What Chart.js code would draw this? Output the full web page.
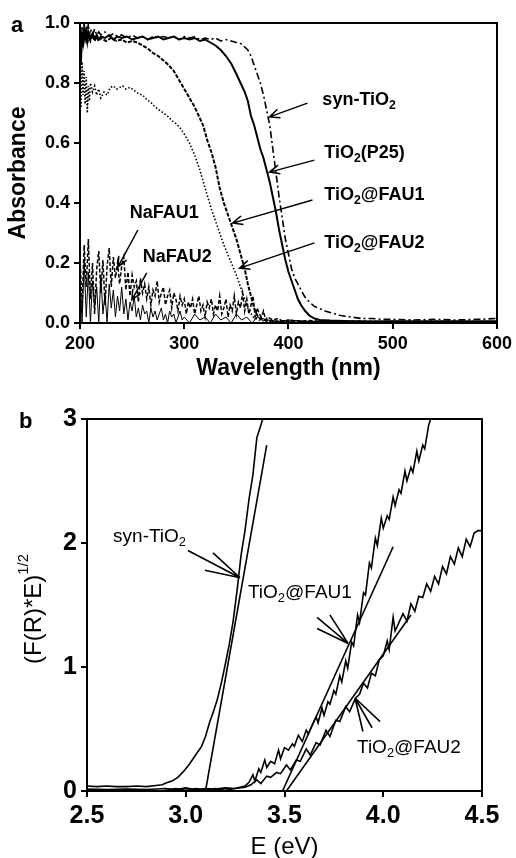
<!DOCTYPE html>
<html><head><meta charset="utf-8">
<script src="https://cdn.jsdelivr.net/npm/chart.js@4.4.1/dist/chart.umd.min.js"></script>
<style>
html,body{margin:0;padding:0;background:#fff;width:516px;height:858px;overflow:hidden;}
#ca{position:absolute;left:0;top:0;}
#cb{position:absolute;left:0;top:395px;}
</style></head><body>
<canvas id="ca" width="516" height="395"></canvas>
<canvas id="cb" width="516" height="470"></canvas>
<script>
const FONT = '"Liberation Sans", Arial, Helvetica, sans-serif';

// ---------- Panel a: absorbance vs wavelength ----------
const wlTicks = [200, 300, 400, 500, 600];
const absTicks = [0, 0.2, 0.4, 0.6, 0.8, 1.0];

const synWl  = [201,202,203,204,205,206,207,208,209,210,212,214,216,218,220,224,228,232,236,240,245,250,255,260,265,270,275,280,285,290,295,300,305,310,315,320,325,330,335,340,345,350,355,358,361,364,367,370,373,376,379,382,385,388,391,394,397,400,403,406,409,412,416,420,425,430,435,440,445,450,460,470,480,490,500,520,540,560,580,600];
const synAbs = [0.86,0.99,0.93,1.0,0.96,0.99,0.95,1.0,0.96,0.98,0.96,0.98,0.96,0.97,0.96,0.97,0.955,0.965,0.955,0.96,0.95,0.96,0.95,0.955,0.945,0.955,0.95,0.955,0.95,0.955,0.945,0.955,0.95,0.955,0.945,0.95,0.945,0.95,0.94,0.945,0.94,0.935,0.93,0.92,0.91,0.89,0.86,0.83,0.80,0.76,0.71,0.66,0.58,0.50,0.42,0.35,0.28,0.23,0.18,0.15,0.13,0.11,0.085,0.07,0.055,0.048,0.04,0.035,0.03,0.025,0.02,0.015,0.015,0.012,0.012,0.01,0.012,0.01,0.012,0.015];

const p25Wl  = [201,202,203,204,205,206,207,208,210,212,214,216,218,220,224,228,232,236,240,245,250,255,260,265,270,275,280,285,290,295,300,305,310,315,320,325,330,335,340,345,350,354,358,361,364,367,370,373,376,379,382,385,388,391,394,397,400,403,406,409,412,416,420,425,430,440,460,480,500,550,600];
const p25Abs = [0.90,0.97,0.94,0.98,0.95,0.97,0.94,0.97,0.95,0.965,0.95,0.96,0.945,0.955,0.95,0.96,0.945,0.955,0.95,0.955,0.945,0.95,0.955,0.945,0.95,0.955,0.945,0.95,0.955,0.945,0.95,0.945,0.95,0.94,0.945,0.935,0.925,0.91,0.89,0.865,0.83,0.80,0.77,0.74,0.69,0.66,0.62,0.58,0.55,0.51,0.47,0.42,0.37,0.31,0.26,0.21,0.17,0.14,0.11,0.08,0.06,0.04,0.025,0.015,0.01,0.008,0.006,0.005,0.006,0.005,0.006];

const fau1Wl  = [201,202,203,204,205,206,207,208,210,212,214,216,218,220,225,230,235,240,245,250,255,260,265,270,275,280,285,290,295,300,305,310,314,318,322,326,330,334,338,342,346,350,354,358,361,364,367,370,374,380,390,400,420,450,500,550,600];
const fau1Abs = [0.88,0.96,0.92,0.97,0.94,0.98,0.93,0.96,0.94,0.96,0.94,0.955,0.94,0.95,0.94,0.95,0.94,0.945,0.935,0.94,0.935,0.925,0.915,0.90,0.89,0.875,0.86,0.84,0.81,0.78,0.75,0.72,0.69,0.66,0.61,0.57,0.52,0.45,0.40,0.36,0.32,0.28,0.23,0.18,0.13,0.09,0.05,0.025,0.012,0.008,0.005,0.006,0.004,0.005,0.004,0.005,0.004];

const fau2Wl  = [201,202,203,204,205,206,207,208,209,210,212,214,216,218,220,223,226,229,232,235,238,241,244,248,252,256,260,264,268,272,276,280,284,288,292,296,300,305,310,315,320,326,332,338,344,350,356,361,366,372,380,400,450,500,600];
const fau2Abs = [0.72,0.87,0.76,0.84,0.73,0.82,0.70,0.79,0.74,0.80,0.77,0.79,0.76,0.78,0.75,0.77,0.76,0.785,0.79,0.78,0.785,0.79,0.78,0.785,0.775,0.765,0.76,0.745,0.735,0.72,0.71,0.70,0.69,0.675,0.665,0.65,0.63,0.60,0.56,0.51,0.45,0.38,0.32,0.26,0.21,0.16,0.10,0.05,0.02,0.01,0.006,0.005,0.004,0.005,0.005];

const na1Wl  = [200,202,204,206,208,210,212,214,216,218,220,222,224,226,228,230,232,234,236,238,240,242,244,246,248,250,252,254,256,258,260,262,264,266,268,270,272,274,276,278,280,282,284,286,288,290,292,294,296,298,300,302,304,306,308,310,312,314,316,318,320,322,324,326,328,330,332,334,336,338,340,342,344,346,348,350,352,354,356,358,360,362,364,366,368,370,372,374,376,378,380,385,390,395,400,410,420,440,460,500,550,600];
const na1Abs = [0.22,0.05,0.26,0.12,0.28,0.08,0.20,0.03,0.18,0.24,0.10,0.21,0.06,0.19,0.25,0.12,0.22,0.15,0.20,0.13,0.19,0.22,0.11,0.17,0.09,0.16,0.12,0.14,0.07,0.15,0.10,0.13,0.08,0.12,0.06,0.11,0.09,0.14,0.07,0.10,0.12,0.06,0.09,0.11,0.05,0.10,0.08,0.04,0.09,0.06,0.08,0.03,0.07,0.05,0.08,0.03,0.06,0.09,0.04,0.06,0.02,0.07,0.05,0.08,0.03,0.06,0.04,0.09,0.03,0.05,0.08,0.02,0.06,0.04,0.09,0.03,0.07,0.05,0.10,0.04,0.08,0.03,0.06,0.09,0.02,0.05,0.03,0.02,0.04,0.01,0.02,0.01,0.015,0.005,0.01,0.005,0.008,0.004,0.006,0.004,0.005,0.004];

const na2Wl  = [200,202,204,206,208,210,212,214,216,218,220,222,224,226,228,230,232,234,236,238,240,242,244,246,248,250,252,254,256,258,260,262,264,266,268,270,272,274,276,278,280,282,284,286,288,290,292,294,296,298,300,305,310,315,320,325,330,335,340,345,350,355,360,365,370,380,390,400,420,450,500,550,600];
const na2Abs = [0.15,0.00,0.21,0.02,0.17,0.00,0.14,0.05,0.12,0.00,0.16,0.03,0.10,0.00,0.13,0.05,0.11,0.02,0.09,0.04,0.12,0.03,0.08,0.01,0.07,0.04,0.09,0.02,0.05,0.01,0.06,0.03,0.04,0.00,0.05,0.02,0.04,0.01,0.03,0.05,0.01,0.03,0.00,0.04,0.02,0.03,0.00,0.02,0.04,0.01,0.02,0.00,0.03,0.01,0.02,0.00,0.03,0.01,0.02,0.00,0.03,0.01,0.02,0.00,0.02,0.01,0.005,0.01,0.005,0.004,0.005,0.004,0.005];

const labelsA = [
  {t:'syn-TiO_{2}', x:432.5, y:0.743},
  {t:'TiO_{2}(P25)', x:434.4, y:0.567},
  {t:'TiO_{2}@FAU1', x:434.4, y:0.427},
  {t:'TiO_{2}@FAU2', x:434.4, y:0.267},
  {t:'NaFAU1', x:247.8, y:0.367},
  {t:'NaFAU2', x:260.3, y:0.22}
];
// arrows: [fromX, fromY, tipX, tipY]
const arrowsA = [
  [418.2,0.733,381.8,0.687],
  [424.9,0.543,381.8,0.503],
  [423.0,0.410,346.4,0.333],
  [424.9,0.267,353.1,0.183],
  [255.5,0.310,236.4,0.187],
  [264.0,0.167,249.8,0.077]
];

// ---------- Panel b: Tauc plot ----------
const eTicks = [2.5, 3.0, 3.5, 4.0, 4.5];
const fTicks = [0, 1, 2, 3];

const bSynE = [2.50,2.55,2.60,2.65,2.70,2.75,2.80,2.85,2.88,2.90,2.93,2.96,2.99,3.02,3.05,3.08,3.10,3.12,3.14,3.16,3.18,3.20,3.22,3.24,3.26,3.28,3.30,3.32,3.34,3.36,3.38,3.39];
const bSynF = [0.04,0.035,0.04,0.035,0.035,0.04,0.035,0.045,0.05,0.065,0.08,0.11,0.16,0.22,0.29,0.36,0.44,0.55,0.64,0.74,0.87,1.02,1.18,1.37,1.62,1.90,2.10,2.35,2.55,2.85,2.95,3.0];

const bF1E = [2.50,2.60,2.70,2.80,2.90,2.95,3.00,3.05,3.10,3.15,3.20,3.25,3.30,3.32,3.34,3.35,3.37,3.38,3.40,3.41,3.43,3.45,3.47,3.48,3.50,3.52,3.54,3.55,3.57,3.59,3.61,3.62,3.64,3.66,3.67,3.69,3.70,3.72,3.73,3.75,3.76,3.78,3.79,3.81,3.82,3.84,3.85,3.87,3.88,3.90,3.91,3.93,3.94,3.96,3.97,3.99,4.00,4.02,4.03,4.05,4.06,4.08,4.09,4.11,4.12,4.14,4.15,4.17,4.18,4.20,4.21,4.23,4.24];
const bF1F = [0.015,0.012,0.015,0.012,0.02,0.01,0.025,0.01,0.02,0.015,0.025,0.02,0.04,0.07,0.13,0.08,0.18,0.15,0.25,0.19,0.24,0.22,0.33,0.26,0.35,0.33,0.38,0.36,0.45,0.40,0.49,0.46,0.53,0.60,0.55,0.67,0.61,0.72,0.70,0.81,0.78,0.93,0.88,1.05,0.99,1.20,1.17,1.42,1.36,1.60,1.58,1.84,1.80,2.04,1.98,2.20,2.12,2.22,2.19,2.37,2.30,2.43,2.40,2.58,2.50,2.61,2.57,2.74,2.66,2.79,2.76,2.95,3.0];

const bF2E = [2.88,2.95,3.00,3.05,3.10,3.15,3.20,3.25,3.30,3.33,3.36,3.38,3.41,3.43,3.46,3.48,3.51,3.53,3.56,3.58,3.61,3.63,3.66,3.68,3.71,3.73,3.76,3.78,3.81,3.83,3.86,3.88,3.90,3.92,3.94,3.96,3.98,4.00,4.02,4.03,4.05,4.06,4.08,4.10,4.12,4.14,4.16,4.18,4.20,4.22,4.24,4.26,4.28,4.30,4.32,4.34,4.36,4.38,4.40,4.42,4.44,4.46,4.48,4.50];
const bF2F = [0.00,0.02,0.005,0.02,0.01,0.02,0.005,0.02,0.03,0.05,0.09,0.06,0.12,0.11,0.15,0.14,0.21,0.17,0.25,0.24,0.34,0.29,0.39,0.37,0.49,0.44,0.57,0.56,0.68,0.64,0.75,0.78,0.87,0.83,0.95,0.93,1.06,1.09,1.21,1.14,1.40,1.29,1.36,1.43,1.37,1.51,1.45,1.57,1.56,1.67,1.61,1.73,1.67,1.81,1.75,1.89,1.83,1.96,1.89,2.03,1.97,2.08,2.10,2.10];

// linear fits (x0,y0)-(x1,y1)
const fitSynE = [3.10, 3.41], fitSynF = [0, 2.79];
const fitF1E  = [3.49, 4.05], fitF1F  = [0, 1.97];
const fitF2E  = [3.51, 4.14], fitF2F  = [0, 1.42];

const labelsB = [
  {t:'syn-TiO_{2}', x:2.632, y:2.05},
  {t:'TiO_{2}@FAU1', x:3.315, y:1.60},
  {t:'TiO_{2}@FAU2', x:3.867, y:0.35}
];
// converging pointer lines: tip and starting points
const pointersB = [
  {tip:[3.275,1.72], from:[[3.011,1.94],[3.138,1.92],[3.097,1.78]]},
  {tip:[3.822,1.19], from:[[3.665,1.40],[3.730,1.42],[3.665,1.31]]},
  {tip:[3.857,0.75], from:[[3.897,0.48],[3.943,0.51],[3.984,0.56]]}
];

// ---------- helpers ----------
const pts = (xs, ys) => xs.map((x, i) => ({x, y: ys[i]}));

function drawRich(ctx, str, x, y, size, weight, align) {
  const parts = str.split(/(_\{[^}]*\}|\^\{[^}]*\})/).filter(p => p);
  const segs = parts.map(p => {
    if (p.startsWith('_{')) return {t: p.slice(2, -1), s: size * 0.68, dy: size * 0.3};
    if (p.startsWith('^{')) return {t: p.slice(2, -1), s: size * 0.62, dy: -size * 0.42};
    return {t: p, s: size, dy: 0};
  });
  ctx.save();
  ctx.fillStyle = '#000';
  ctx.textBaseline = 'middle';
  ctx.textAlign = 'left';
  let w = 0;
  segs.forEach(g => { ctx.font = `${weight} ${g.s}px ${FONT}`; g.w = ctx.measureText(g.t).width; w += g.w; });
  let cx = align === 'center' ? x - w / 2 : x;
  segs.forEach(g => { ctx.font = `${weight} ${g.s}px ${FONT}`; ctx.fillText(g.t, cx, y + g.dy); cx += g.w; });
  ctx.restore();
}

function frame(chart) {
  const {ctx, chartArea: a} = chart;
  ctx.save();
  ctx.strokeStyle = '#000';
  ctx.lineWidth = 2;
  ctx.strokeRect(a.left, a.top, a.right - a.left, a.bottom - a.top);
  ctx.restore();
}

function line(ds, xs, ys, width, dash) {
  return {data: pts(xs, ys), showLine: true, pointRadius: 0, borderColor: '#000',
          borderWidth: width, borderDash: dash || [], tension: 0, fill: false};
}

function axis(min, max, ticks, fmt, size, opts) {
  return Object.assign({
    type: 'linear', min, max,
    afterBuildTicks: s => { s.ticks = ticks.map(v => ({value: v})); },
    ticks: {callback: fmt, color: '#000', font: {family: FONT, size, weight: 'bold'}, padding: 4, autoSkip: false, maxRotation: 0},
    grid: {drawOnChartArea: false, drawTicks: true, tickLength: 6, color: '#000', lineWidth: 2},
    border: {display: true, color: '#000', width: 2}
  }, opts);
}

// ---------- Chart a ----------
new Chart(document.getElementById('ca'), {
  type: 'scatter',
  data: {datasets: [
    line(0, na2Wl, na2Abs, 1),
    line(0, na1Wl, na1Abs, 1.5, [4, 2]),
    line(0, fau2Wl, fau2Abs, 1.6, [1.5, 2]),
    line(0, fau1Wl, fau1Abs, 2, [4, 1.5]),
    line(0, p25Wl, p25Abs, 2),
    line(0, synWl, synAbs, 1.6, [7, 3, 2, 3])
  ]},
  options: {
    responsive: false, animation: false, devicePixelRatio: 1,
    layout: {padding: {left: 0, right: 18, top: 23, bottom: 0}},
    plugins: {legend: {display: false}, tooltip: {enabled: false}},
    scales: {
      x: axis(200, 600, wlTicks, v => String(v), 18, {
        afterFit: s => { s.height = 72; },
        title: {display: true, text: 'Wavelength (nm)', color: '#000', font: {family: FONT, size: 23, weight: 'bold'}, padding: {top: 0, bottom: 13}}
      }),
      y: axis(0, 1, absTicks, v => v.toFixed(1), 18, {
        afterFit: s => { s.width = 80; },
        title: {display: true, text: 'Absorbance', color: '#000', font: {family: FONT, size: 23, weight: 'bold'}, padding: {top: 5, bottom: 0}}
      })
    }
  },
  plugins: [{
    id: 'decoA',
    afterDraw(chart) {
      frame(chart);
      const {ctx, scales: {x, y}} = chart;
      ctx.save();
      ctx.strokeStyle = '#000';
      ctx.lineWidth = 1.5;
      arrowsA.forEach(a => {
        const x1 = x.getPixelForValue(a[0]), y1 = y.getPixelForValue(a[1]);
        const x2 = x.getPixelForValue(a[2]), y2 = y.getPixelForValue(a[3]);
        const ang = Math.atan2(y2 - y1, x2 - x1);
        ctx.beginPath();
        ctx.moveTo(x1, y1); ctx.lineTo(x2, y2);
        const L = 11, h = 0.42;
        ctx.moveTo(x2 - L * Math.cos(ang - h), y2 - L * Math.sin(ang - h));
        ctx.lineTo(x2, y2);
        ctx.lineTo(x2 - L * Math.cos(ang + h), y2 - L * Math.sin(ang + h));
        ctx.stroke();
      });
      ctx.restore();
      labelsA.forEach(l => drawRich(ctx, l.t, x.getPixelForValue(l.x), y.getPixelForValue(l.y), 18, 'bold', 'left'));
      drawRich(ctx, 'a', 11, 26, 22, 'bold', 'left');
    }
  }]
});

// ---------- Chart b ----------
new Chart(document.getElementById('cb'), {
  type: 'scatter',
  data: {datasets: [
    line(0, bSynE, bSynF, 1.6),
    line(0, bF1E, bF1F, 1.6),
    line(0, bF2E, bF2F, 1.6),
    line(0, fitSynE, fitSynF, 1.6),
    line(0, fitF1E, fitF1F, 1.6),
    line(0, fitF2E, fitF2F, 1.6)
  ]},
  options: {
    responsive: false, animation: false, devicePixelRatio: 1,
    layout: {padding: {left: 0, right: 34, top: 24, bottom: 0}},
    plugins: {legend: {display: false}, tooltip: {enabled: false}},
    scales: {
      x: axis(2.5, 4.5, eTicks, v => v.toFixed(1), 25, {
        afterFit: s => { s.height = 74; },
        title: {display: true, text: 'E (eV)', color: '#000', font: {family: FONT, size: 24, weight: 'normal'}, padding: {top: 0, bottom: 3}}
      }),
      y: axis(0, 3, fTicks, v => String(v), 25, {
        afterFit: s => { s.width = 87; }
      })
    }
  },
  plugins: [{
    id: 'decoB',
    afterDraw(chart) {
      frame(chart);
      const {ctx, scales: {x, y}, chartArea: a} = chart;
      ctx.save();
      ctx.strokeStyle = '#000';
      ctx.lineWidth = 1.6;
      pointersB.forEach(p => {
        const tx = x.getPixelForValue(p.tip[0]), ty = y.getPixelForValue(p.tip[1]);
        ctx.beginPath();
        p.from.forEach(f => { ctx.moveTo(x.getPixelForValue(f[0]), y.getPixelForValue(f[1])); ctx.lineTo(tx, ty); });
        ctx.stroke();
      });
      ctx.restore();
      labelsB.forEach(l => drawRich(ctx, l.t, x.getPixelForValue(l.x), y.getPixelForValue(l.y), 19, 'normal', 'left'));
      // y-axis title with superscript
      ctx.save();
      ctx.translate(34, (a.top + a.bottom) / 2 + 4);
      ctx.rotate(-Math.PI / 2);
      drawRich(ctx, '(F(R)*E)^{1/2}', 0, 0, 24, 'normal', 'center');
      ctx.restore();
      drawRich(ctx, 'b', 19, 27, 22, 'bold', 'left');
    }
  }]
});
</script>
</body></html>
